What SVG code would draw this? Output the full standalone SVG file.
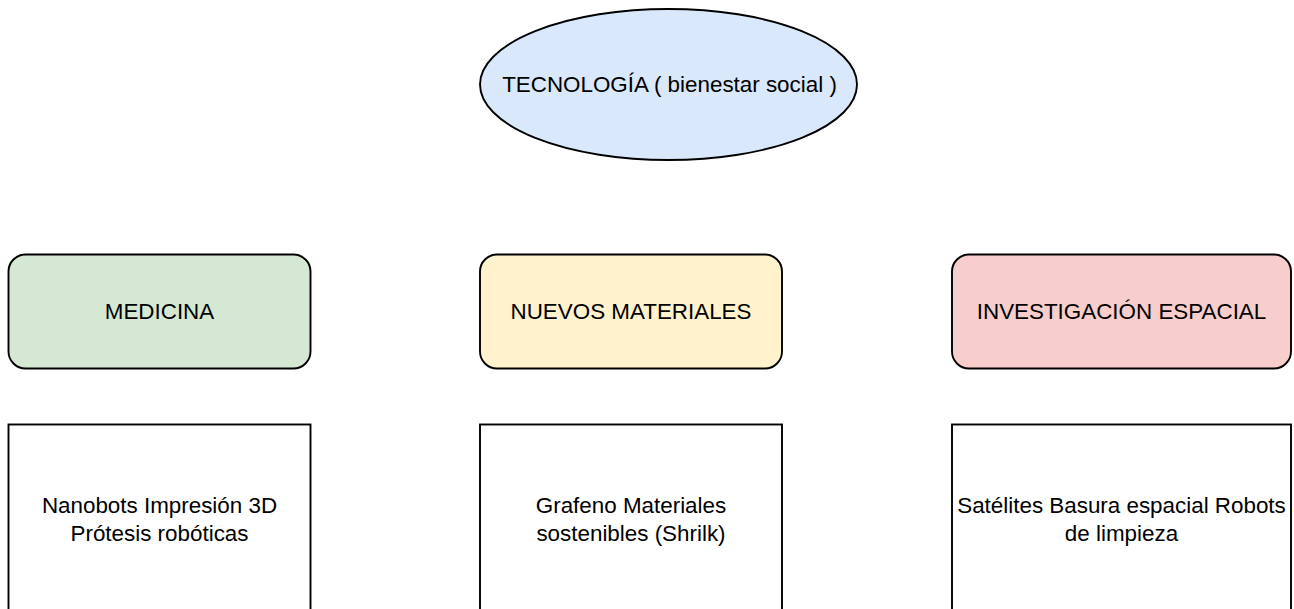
<svg xmlns="http://www.w3.org/2000/svg" width="1294" height="609" viewBox="0 0 1294 609">
<style>
.shape{stroke:#000;stroke-width:1.9}
.lbl{font-family:"Liberation Sans",Arial,sans-serif;font-size:22.4px;fill:#000;text-anchor:middle}
</style>
<rect width="1294" height="609" fill="#fff"/>
<g id="connectors"></g>
<g id="tecnologia">
<ellipse class="shape" cx="668.5" cy="84.5" rx="188.5" ry="75.5" fill="#dae8fc"/>
<text class="lbl" x="669.5" y="92">TECNOLOGÍA ( bienestar social )</text>
</g>
<g id="medicina">
<rect class="shape" x="8.5" y="254.5" width="302" height="114" rx="17" ry="17" fill="#d5e8d4"/>
<text class="lbl" x="159.5" y="319">MEDICINA</text>
</g>
<g id="nuevos-materiales">
<rect class="shape" x="480" y="254.5" width="302" height="114" rx="17" ry="17" fill="#fff2cc"/>
<text class="lbl" x="631" y="319">NUEVOS MATERIALES</text>
</g>
<g id="investigacion-espacial">
<rect class="shape" x="952" y="254.5" width="339" height="114" rx="17" ry="17" fill="#f8cecc"/>
<text class="lbl" x="1121.5" y="319">INVESTIGACIÓN ESPACIAL</text>
</g>
<g id="medicina-items">
<rect class="shape" x="8.5" y="424.5" width="302" height="250" fill="#fff"/>
<text class="lbl" x="159.5" y="513">Nanobots Impresión 3D</text>
<text class="lbl" x="159.5" y="540.5">Prótesis robóticas</text>
</g>
<g id="materiales-items">
<rect class="shape" x="480" y="424.5" width="302" height="250" fill="#fff"/>
<text class="lbl" x="631" y="513">Grafeno Materiales</text>
<text class="lbl" x="631" y="540.5">sostenibles (Shrilk)</text>
</g>
<g id="espacial-items">
<rect class="shape" x="952" y="424.5" width="339" height="250" fill="#fff"/>
<text class="lbl" x="1121.5" y="513">Satélites Basura espacial Robots</text>
<text class="lbl" x="1121.5" y="540.5">de limpieza</text>
</g>
</svg>
